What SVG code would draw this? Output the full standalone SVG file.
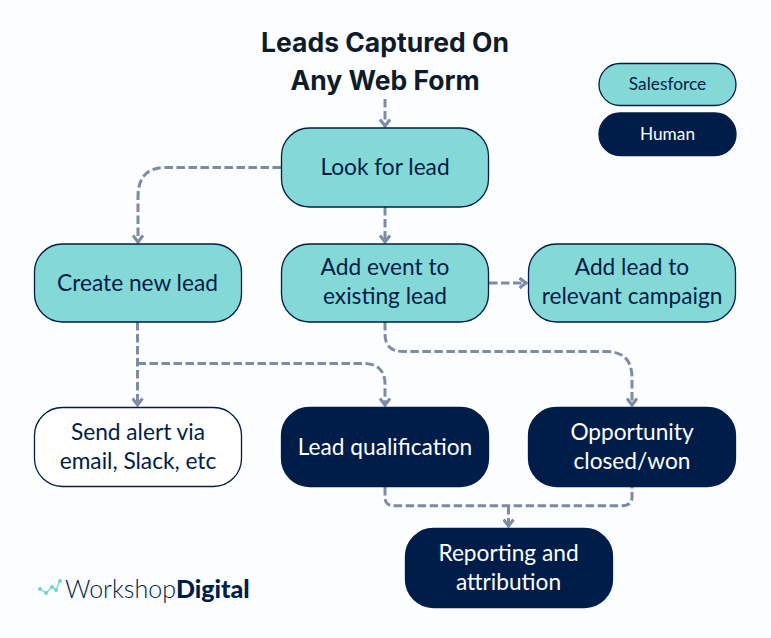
<svg xmlns="http://www.w3.org/2000/svg" width="771" height="638" viewBox="0 0 771 638">
<style>
text{font-family:"Lato","Noto Sans",sans-serif;text-anchor:middle}
.t{font-size:22.7px;fill:#001d4a}
.w{font-size:22.7px;fill:#fff}
.s{font-size:17.3px}
.title{font-family:"Inter","Lato",sans-serif;font-weight:700;font-size:26.5px;fill:#0d1b2a}
.sf{fill:#84d9d6;stroke:#001d4a;stroke-width:1.3}
.hu{fill:#001d4a;stroke:#001d4a;stroke-width:1.3}
.al{fill:#fff;stroke:#001d4a;stroke-width:1.3}
#connectors path{fill:none;stroke:#7d8ba5;stroke-width:3;stroke-dasharray:8.5 3.5}
#connectors path.a{marker-end:url(#arr)}
</style>
<defs>
<marker id="arr" viewBox="0 0 12 12" refX="10" refY="6" markerWidth="12" markerHeight="12" markerUnits="userSpaceOnUse" orient="auto">
<path d="M2.500 1 L9 6 L2.500 11" fill="none" stroke="#7d8ba5" stroke-width="3" stroke-dasharray="none"/>
</marker>
</defs>
<rect width="771" height="638" fill="#fcfdfe"/>
<g id="connectors">
<path class="a" d="M385 99V127"/>
<path class="a" d="M281 167.500H165Q138 167.500 138 197V243"/>
<path class="a" d="M385 207V243"/>
<path class="a" d="M489 283H527"/>
<path class="a" d="M137.500 322V406"/>
<path class="a" d="M137.500 363.500H366Q385 365 385 384V406"/>
<path class="a" d="M385 322V334Q385 351.500 403 351.500H606Q632 351.500 632 378V406"/>
<path d="M385 487V497Q385 505.800 394 505.800H622Q632 505.800 632 497V487"/>
<path class="a" d="M508.500 506V527"/>
</g>
<g id="title"><text class="title" x="385" y="52">Leads Captured On</text><text class="title" x="385" y="90">Any Web Form</text></g>
<g id="legend-salesforce"><rect class="sf" x="599" y="63.500" width="137" height="42" rx="21"/><text class="t s" x="667.500" y="90">Salesforce</text></g>
<g id="legend-human"><rect class="hu" x="599" y="113" width="137" height="42.500" rx="21"/><text class="w s" x="667.500" y="140">Human</text></g>
<g id="look-for-lead"><rect class="sf" x="281.500" y="128" width="207" height="79" rx="28"/><text class="t" x="385" y="175">Look for lead</text></g>
<g id="create-new-lead"><rect class="sf" x="34.500" y="244" width="207" height="78" rx="28"/><text class="t" x="137.500" y="291">Create new lead</text></g>
<g id="add-event"><rect class="sf" x="281.500" y="244" width="207" height="78" rx="28"/><text class="t" x="385" y="275">Add event to</text><text class="t" x="385" y="304">existing lead</text></g>
<g id="add-lead"><rect class="sf" x="528.500" y="244" width="207" height="78" rx="28"/><text class="t" x="632" y="275">Add lead to</text><text class="t" x="632" y="304">relevant campaign</text></g>
<g id="send-alert"><rect class="al" x="34.500" y="407.500" width="207" height="79" rx="28"/><text class="t" x="138" y="440">Send alert via</text><text class="t" x="138" y="469">email, Slack, etc</text></g>
<g id="lead-qualification"><rect class="hu" x="281.500" y="407.500" width="207" height="79" rx="28"/><text class="w" x="385" y="455">Lead qualification</text></g>
<g id="opportunity"><rect class="hu" x="528.500" y="407.500" width="207" height="79" rx="28"/><text class="w" x="632" y="440">Opportunity</text><text class="w" x="632" y="469">closed/won</text></g>
<g id="reporting"><rect class="hu" x="405.500" y="528.500" width="207" height="79" rx="28"/><text class="w" x="508.500" y="561">Reporting and</text><text class="w" x="508.500" y="590">attribution</text></g>
<g id="logo">
<polyline points="40,589 46,593 52,587 56,590 60,581" fill="none" stroke="#84d9d6" stroke-width="1.500"/>
<g fill="#6fd3d0"><circle cx="40" cy="589" r="2"/><circle cx="46" cy="593" r="2"/><circle cx="52" cy="587" r="2"/><circle cx="56" cy="590" r="2"/><circle cx="60" cy="581" r="2"/></g>
<text x="65" y="598" fill="#001d4a" style="text-anchor:start"><tspan font-size="25" font-weight="300">Workshop</tspan><tspan font-size="25" font-weight="900">Digital</tspan></text>
</g>
</svg>
